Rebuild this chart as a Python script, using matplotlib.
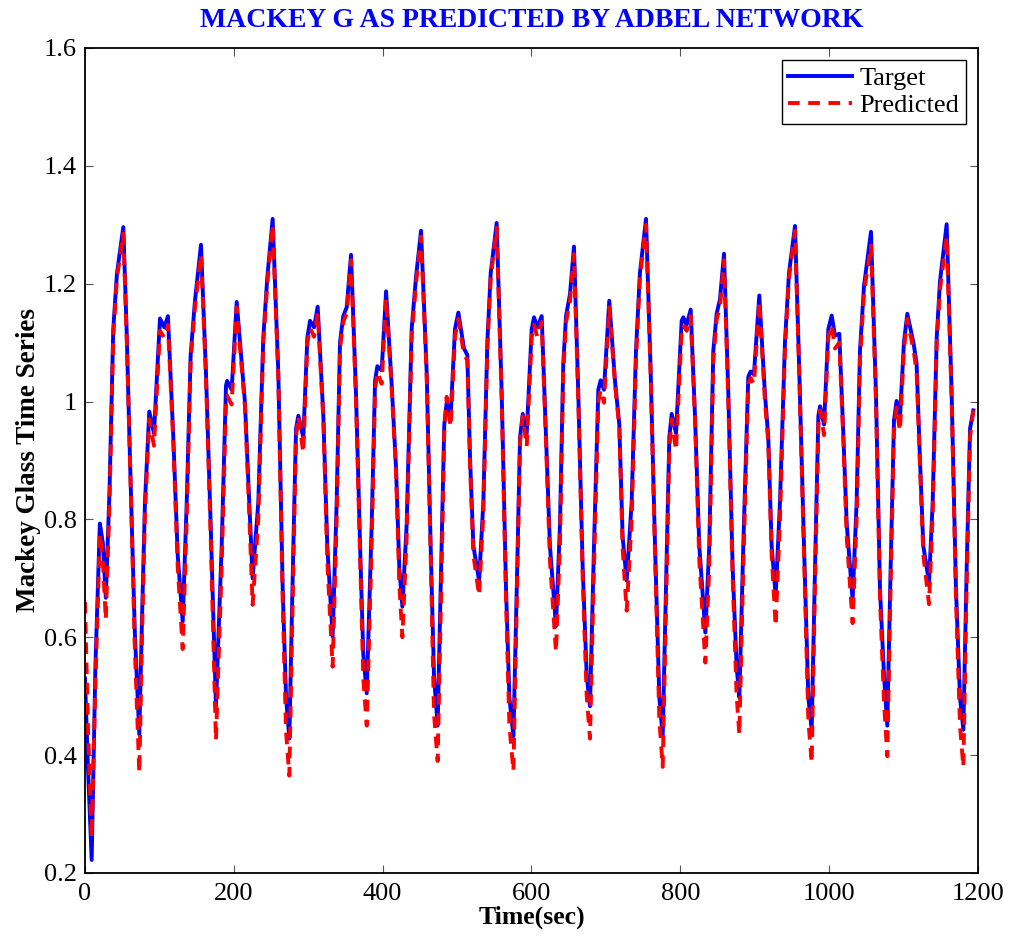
import matplotlib
matplotlib.use("Agg")
import matplotlib.pyplot as plt

# values (knots along the curves)
time = [0, 4, 9, 14, 20, 24, 28, 33, 38, 43, 51.5, 56, 60.5, 67, 73, 77, 80.6, 86.4, 92.7, 100.8, 106.6, 111.5,
        118.7, 124.6, 131.3, 136.7, 142, 147.8, 155.9, 162.6, 168.9, 176, 183.7, 189.5, 191, 197.1, 203.9,
        215, 219.5, 225.3, 232.9, 239.6, 245, 252.2, 259.8, 265.7, 270.2, 274.6, 280, 283.6, 286.7, 293.4,
        298.8, 302.4, 307.8, 312.7, 320.3, 325.6, 332.8, 338.2, 342.7, 347.1, 351.7, 357.5, 364.2, 370.5,
        374, 378.6, 385.3, 389.8, 392.9, 398.7, 404.6, 412.2, 418, 422.4, 426.5, 432.3, 439, 444.8, 451.6,
        459.2, 464.5, 469, 473.9, 479.3, 482.8, 486, 491.4, 497.2, 501.7, 509.3, 513.8, 517.5, 521.9, 529.6,
        535.3, 540.7, 545.2, 553.2, 560, 565.8, 570.3, 575.7, 580.2, 584.6, 588.2, 593.6, 600.3, 603.4,
        607.8, 613.7, 619.5, 624.8, 632.9, 638.3, 642.7, 646.4, 651.7, 657.1, 662.9, 668.8, 674.2, 678.6,
        684, 689.8, 693, 697.4, 704.5, 712.2, 718, 722.5, 727.9, 734.6, 740.4, 745.7, 753.9, 760.2, 766,
        771.8, 776.3, 780.7, 785.2, 788.4, 794.2, 801.8, 804, 808.5, 813.9, 819.7, 825.5, 833.6, 838.9,
        844.3, 848.8, 853.3, 858.7, 864.5, 870.3, 875.7, 879.3, 884.6, 891.3, 894.5, 898.9, 906.1, 913.7,
        918.2, 922.7, 928.1, 933.9, 940.6, 946, 954.1, 959.9, 966.2, 972, 976.5, 981, 985.5, 987.8, 993.1,
        998.9, 1003.4, 1007.8, 1013.6, 1019.2, 1023.6, 1031.5, 1036.9, 1041.4, 1046.8, 1056.2, 1062.9,
        1068.3, 1073.7, 1078.1, 1082.6, 1087.1, 1090.6, 1095.1, 1100.5, 1105, 1113.7, 1117.5, 1122, 1126.5,
        1134.2, 1139.1, 1144.5, 1148.9, 1157.9, 1164.6, 1170.4, 1175.8, 1180.3, 1184.8, 1189.3, 1193.7]

target = [0.53, 0.38, 0.222, 0.55, 0.793, 0.76, 0.667, 0.85, 1.123, 1.218, 1.296, 1.12, 0.902, 0.608, 0.435,
          0.65, 0.829, 0.983, 0.946, 1.141, 1.126, 1.145,
          0.939, 0.74, 0.626, 0.829, 1.079, 1.171, 1.266, 1.049, 0.792, 0.483, 0.755, 1.027, 1.035, 1.02, 1.169,
          0.998, 0.865, 0.7, 0.829, 1.108, 1.211, 1.31, 1.049, 0.682, 0.498, 0.428, 0.755, 0.954, 0.976, 0.939,
          1.108, 1.137, 1.126, 1.161, 0.976, 0.755, 0.601, 0.829, 1.101, 1.145, 1.16, 1.249, 1.013, 0.718,
          0.571, 0.505, 0.792, 1.035, 1.06, 1.053, 1.187, 1.027, 0.887, 0.718, 0.652, 0.792, 1.123, 1.211, 1.29,
          1.049, 0.755, 0.535, 0.45, 0.755, 0.961, 0.998, 0.976, 1.123, 1.151, 1.09, 1.079, 0.902, 0.755, 0.696,
          0.829, 1.101, 1.218, 1.303, 1.013, 0.682, 0.498, 0.432, 0.682, 0.939, 0.979, 0.946, 1.123, 1.143,
          1.126, 1.145, 0.939, 0.755, 0.619, 0.792, 1.064, 1.145, 1.182, 1.263, 1.013, 0.718, 0.535, 0.483,
          0.755, 1.02, 1.036, 1.02, 1.171, 1.035, 0.961, 0.77, 0.696, 0.829, 1.086, 1.218, 1.31, 1.049, 0.755,
          0.498, 0.432, 0.682, 0.939, 0.979, 0.946, 1.137, 1.143, 1.13, 1.156, 0.976, 0.755, 0.608, 0.755,
          1.086, 1.149, 1.174, 1.251, 1.013, 0.718, 0.549, 0.498, 0.755, 1.042, 1.051, 1.046, 1.18, 1.013,
          0.939, 0.755, 0.671, 0.829, 1.101, 1.218, 1.298, 1.049, 0.755, 0.498, 0.443, 0.718, 0.976, 0.992, 0.961,
          1.123, 1.146, 1.112, 1.115, 0.939, 0.792, 0.663, 0.829, 1.086, 1.196, 1.288, 1.013,
          0.682, 0.535, 0.45, 0.718, 0.968, 1.001, 0.972, 1.101, 1.149, 1.097, 1.064, 0.902, 0.755,
          0.693, 0.829, 1.108, 1.204, 1.301, 1.013, 0.682, 0.498, 0.443, 0.718, 0.954, 0.985]

predicted = [0.66, 0.45, 0.26, 0.52, 0.775, 0.73, 0.63, 0.83, 1.11, 1.21, 1.285, 1.11, 0.9, 0.58, 0.37,
             0.62, 0.81, 0.97, 0.925, 1.12, 1.108, 1.13,
             0.93, 0.72, 0.58, 0.8, 1.07, 1.16, 1.25, 1.04, 0.77, 0.425, 0.72, 1.0, 1.01, 0.995, 1.16,
             0.99, 0.85, 0.655, 0.8, 1.1, 1.2, 1.3, 1.04, 0.66, 0.44, 0.365, 0.72, 0.94, 0.975, 0.913,
             1.1, 1.125, 1.11, 1.15, 0.97, 0.73, 0.55, 0.8, 1.09, 1.135, 1.15, 1.24, 1.0, 0.7,
             0.53, 0.45, 0.76, 1.02, 1.05, 1.03, 1.175, 1.02, 0.88, 0.69, 0.6, 0.77, 1.11, 1.2, 1.28,
             1.04, 0.74, 0.47, 0.39, 0.72, 0.95, 1.008, 0.957, 1.11, 1.14, 1.08, 1.07, 0.89, 0.74, 0.671,
             0.81, 1.09, 1.21, 1.295, 1.0, 0.66, 0.45, 0.373, 0.65, 0.93, 0.975, 0.924, 1.11, 1.13,
             1.11, 1.135, 0.93, 0.73, 0.575, 0.76, 1.05, 1.135, 1.17, 1.25, 1.0, 0.7, 0.5, 0.428,
             0.72, 1.0, 1.02, 0.998, 1.16, 1.03, 0.955, 0.75, 0.645, 0.8, 1.07, 1.21, 1.3, 1.04, 0.74,
             0.46, 0.38, 0.65, 0.92, 0.97, 0.917, 1.12, 1.13, 1.12, 1.145, 0.97, 0.73, 0.557, 0.72,
             1.07, 1.14, 1.16, 1.24, 1.0, 0.7, 0.5, 0.435, 0.72, 1.03, 1.04, 1.03, 1.17, 1.0,
             0.93, 0.74, 0.619, 0.8, 1.09, 1.21, 1.29, 1.04, 0.74, 0.46, 0.387, 0.69, 0.96, 0.985, 0.943,
             1.11, 1.13, 1.09, 1.1, 0.93, 0.77, 0.624, 0.8, 1.07, 1.185, 1.265, 1.0,
             0.665, 0.49, 0.398, 0.69, 0.95, 0.99, 0.95, 1.09, 1.14, 1.085, 1.05, 0.89, 0.74,
             0.656, 0.81, 1.1, 1.19, 1.28, 1.0, 0.665, 0.45, 0.38, 0.69, 0.94, 0.985]

plt.rcParams['font.family'] = ['Liberation Serif', 'DejaVu Serif']

fig = plt.figure(figsize=(10.14, 9.41), dpi=100)
ax = fig.add_axes([0.0838, 0.0723, 0.8807, 0.8767])

ax.plot(time, target, color='#0000ff', linewidth=2.8, label='Target')
ax.plot(time, predicted, color='#ff0000', linewidth=2.8, linestyle=(0, (3, 2.2)), label='Predicted')

ax.set_xlim(0, 1200)
ax.set_ylim(0.2, 1.6)
ax.set_xticks([0, 200, 400, 600, 800, 1000, 1200])
ax.set_yticks([0.2, 0.4, 0.6, 0.8, 1.0, 1.2, 1.4, 1.6])
ax.set_yticklabels(['0.2', '0.4', '0.6', '0.8', '1', '1.2', '1.4', '1.6'])
ax.tick_params(direction='in', length=6, width=0.8, color='#555555', labelsize=19,
               top=True, right=True)
ax.tick_params(axis='x', pad=7)
ax.tick_params(axis='y', pad=6)
for s in ax.spines.values():
    s.set_linewidth(1.3)

ax.set_title('MACKEY G AS PREDICTED BY ADBEL NETWORK', color='#0000ff', fontsize=20,
             fontweight='bold', pad=15)
ax.set_xlabel('Time(sec)', fontsize=18.5, fontweight='bold', labelpad=1)
ax.set_ylabel('Mackey Glass Time Series', fontsize=19.5, fontweight='bold', labelpad=2)

leg = ax.legend(loc='upper right', fontsize=19, fancybox=False, framealpha=1,
                edgecolor='black', handlelength=2.4, borderpad=0.25, labelspacing=0.15,
                handletextpad=0.3, borderaxespad=0.45)
leg.get_frame().set_linewidth(1.0)

plt.savefig('out.png', dpi=100)
